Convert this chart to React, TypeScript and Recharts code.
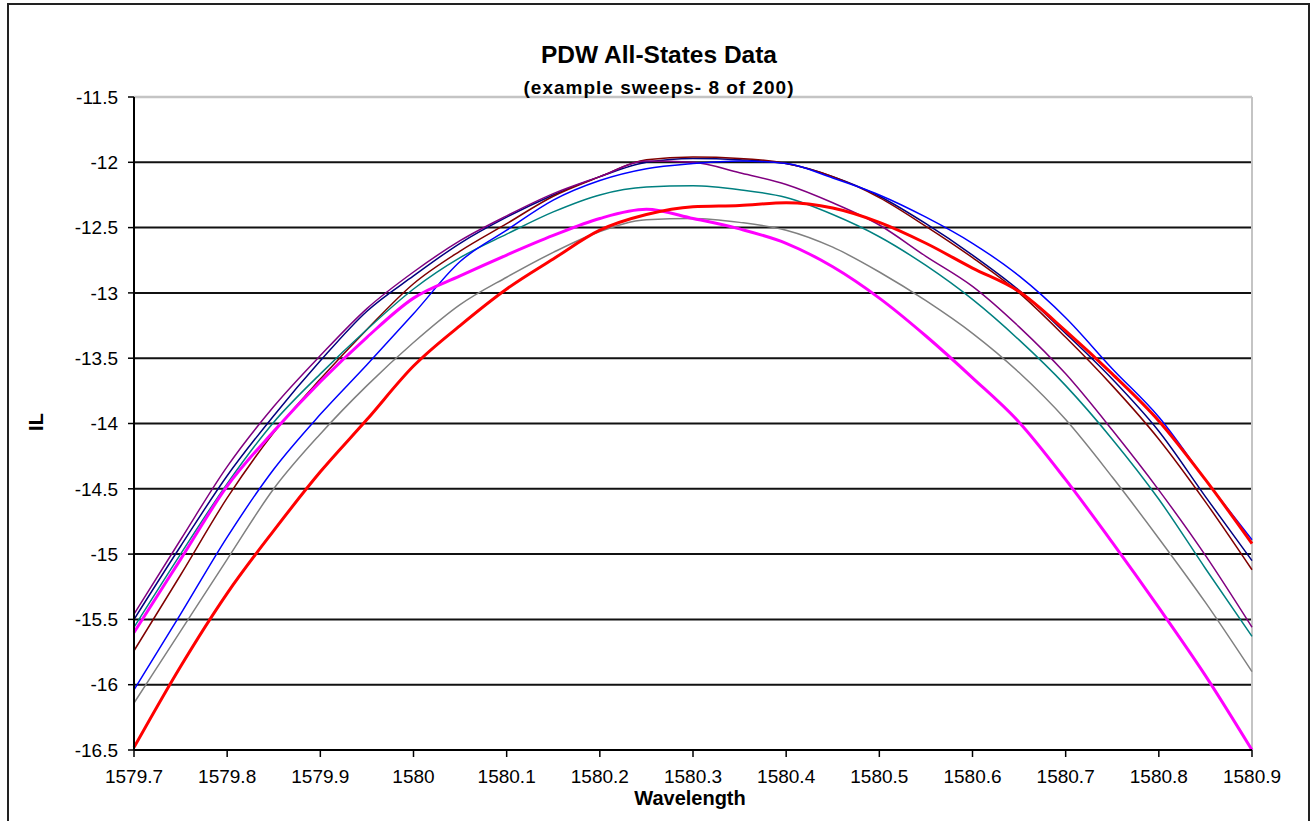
import { LineChart, Line, XAxis, YAxis, CartesianGrid, ReferenceLine } from "recharts";

const wavelength = [
  1579.7, 1579.75, 1579.8, 1579.85, 1579.9, 1579.95, 1580, 1580.05, 1580.1, 1580.15, 1580.2, 1580.25,
  1580.3, 1580.35, 1580.4, 1580.45, 1580.5, 1580.55, 1580.6, 1580.65, 1580.7, 1580.75, 1580.8, 1580.85, 1580.9,
];

const sweepPurple = [
  -15.46, -14.89, -14.33, -13.87, -13.48, -13.12, -12.84, -12.6, -12.41, -12.24, -12.11, -11.99,
  -12.0, -12.08, -12.17, -12.31, -12.48, -12.72, -12.95, -13.26, -13.62, -14.05, -14.51, -15.01, -15.56,
];
const sweepNavy = [
  -15.5, -14.94, -14.4, -13.94, -13.52, -13.14, -12.87, -12.62, -12.42, -12.25, -12.11, -12.0,
  -11.97, -11.98, -12.01, -12.11, -12.26, -12.47, -12.71, -12.98, -13.31, -13.66, -14.06, -14.56, -15.05,
];
const sweepMaroon = [
  -15.74, -15.16, -14.57, -14.07, -13.66, -13.28, -12.93, -12.68, -12.47, -12.26, -12.11, -11.98,
  -11.96, -11.97, -12.01, -12.11, -12.27, -12.49, -12.73, -13.0, -13.34, -13.71, -14.12, -14.6, -15.12,
];
const sweepTeal = [
  -15.56, -15.0, -14.46, -13.99, -13.62, -13.28, -12.97, -12.73, -12.55, -12.38, -12.25, -12.19,
  -12.18, -12.21, -12.27, -12.4, -12.57, -12.79, -13.05, -13.36, -13.71, -14.12, -14.58, -15.11, -15.63,
];
const sweepMagenta = [
  -15.6, -15.04, -14.48, -14.06, -13.68, -13.34, -13.04, -12.87, -12.71, -12.56, -12.43, -12.36,
  -12.43, -12.51, -12.62, -12.8, -13.04, -13.33, -13.65, -13.99, -14.43, -14.91, -15.41, -15.93, -16.5,
];
const sweepBlue = [
  -16.04, -15.46, -14.87, -14.35, -13.93, -13.55, -13.16, -12.76, -12.52, -12.29, -12.14, -12.05,
  -12.01, -11.99, -12.01, -12.12, -12.25, -12.42, -12.62, -12.87, -13.19, -13.58, -13.95, -14.43, -14.89,
];
const sweepGray = [
  -16.14, -15.59, -15.04, -14.5, -14.08, -13.71, -13.38, -13.09, -12.88, -12.69, -12.53, -12.44,
  -12.43, -12.46, -12.52, -12.65, -12.84, -13.06, -13.31, -13.61, -13.97, -14.41, -14.88, -15.37, -15.9,
];
const sweepRed = [
  -16.48, -15.86, -15.3, -14.82, -14.37, -13.97, -13.56, -13.25, -12.97, -12.74, -12.52, -12.4,
  -12.34, -12.33, -12.31, -12.35, -12.46, -12.62, -12.81, -12.99, -13.29, -13.62, -13.98, -14.43, -14.92,
];

const xTicks = [1579.7, 1579.8, 1579.9, 1580, 1580.1, 1580.2, 1580.3, 1580.4, 1580.5, 1580.6, 1580.7, 1580.8, 1580.9];
const yTicks = [-16.5, -16, -15.5, -15, -14.5, -14, -13.5, -13, -12.5, -12, -11.5];

const data = wavelength.map((x, i) => ({
  x,
  navy: sweepNavy[i],
  maroon: sweepMaroon[i],
  purple: sweepPurple[i],
  teal: sweepTeal[i],
  gray: sweepGray[i],
  blue: sweepBlue[i],
  magenta: sweepMagenta[i],
  red: sweepRed[i],
}));

const series = [
  { key: "navy", color: "#000080", width: 1.5 },
  { key: "maroon", color: "#800000", width: 1.5 },
  { key: "purple", color: "#800080", width: 1.5 },
  { key: "teal", color: "#008080", width: 1.5 },
  { key: "gray", color: "#808080", width: 1.5 },
  { key: "blue", color: "#0000FF", width: 1.5 },
  { key: "magenta", color: "#FF00FF", width: 3 },
  { key: "red", color: "#FF0000", width: 3 },
];

const font = '"Liberation Sans", Arial, sans-serif';
const fmt = (v: number) => String(Math.round(v * 10) / 10);

export default function App() {
  return (
    <div
      style={{
        position: "absolute",
        left: 0,
        top: 0,
        width: 1311,
        height: 821,
        overflow: "hidden",
        background: "#fff",
        fontFamily: font,
      }}
    >
      <div
        style={{
          position: "absolute",
          left: 7,
          top: 3,
          width: 1303,
          height: 900,
          boxSizing: "border-box",
          border: "2px solid #222",
        }}
      />
      <div style={{ position: "absolute", left: 0, top: 0 }}>
        <LineChart width={1311} height={821} data={data} margin={{ top: 97, right: 59, bottom: 0, left: 0 }}>
          <CartesianGrid vertical={false} stroke="#111" strokeWidth={2} />
          <ReferenceLine y={-11.5} stroke="#c4c4c4" strokeWidth={2.5} />
          <ReferenceLine x={1580.9} stroke="#c4c4c4" strokeWidth={2} />
          <XAxis
            dataKey="x"
            type="number"
            domain={[1579.7, 1580.9]}
            ticks={xTicks}
            tickFormatter={fmt}
            height={71}
            tickSize={7}
            tickMargin={13}
            axisLine={{ stroke: "#000", strokeWidth: 2 }}
            tickLine={{ stroke: "#000", strokeWidth: 1.5 }}
            tick={{ fill: "#000", fontSize: 19, fontFamily: font }}
            interval={0}
          />
          <YAxis
            type="number"
            domain={[-16.5, -11.5]}
            ticks={yTicks}
            tickFormatter={fmt}
            width={134}
            tickSize={6}
            tickMargin={10}
            axisLine={{ stroke: "#000", strokeWidth: 2 }}
            tickLine={{ stroke: "#000", strokeWidth: 1.5 }}
            tick={{ fill: "#000", fontSize: 19, fontFamily: font }}
            interval={0}
          />
          {series.map((s) => (
            <Line
              key={s.key}
              dataKey={s.key}
              type="monotone"
              stroke={s.color}
              strokeWidth={s.width}
              dot={false}
              activeDot={false}
              isAnimationActive={false}
            />
          ))}
        </LineChart>
      </div>
      <svg
        width={1311}
        height={821}
        style={{ position: "absolute", left: 0, top: 0, pointerEvents: "none" }}
        fontFamily={font}
      >
        <text x={659} y={63} textAnchor="middle" fontSize={24.5} fontWeight="bold" fill="#000">
          PDW All-States Data
        </text>
        <text x={659} y={94} textAnchor="middle" fontSize={19} fontWeight="bold" letterSpacing={1} fill="#000">
          (example sweeps- 8 of 200)
        </text>
        <text
          x={43}
          y={422}
          textAnchor="middle"
          fontSize={20}
          fontWeight="bold"
          fill="#000"
          transform="rotate(-90, 43, 422)"
        >
          IL
        </text>
        <text x={690} y={805} textAnchor="middle" fontSize={20} fontWeight="bold" fill="#000">
          Wavelength
        </text>
      </svg>
    </div>
  );
}
